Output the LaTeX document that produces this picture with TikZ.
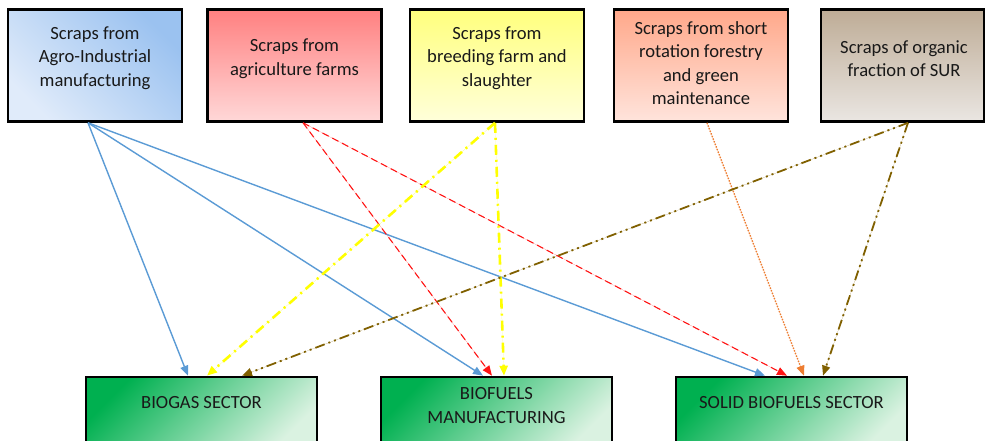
\documentclass[tikz,border=0pt]{standalone}
\usepackage{fontspec}
\setmainfont{Carlito}
\usetikzlibrary{arrows.meta}

\definecolor{agrodark}{RGB}{155,194,240}
\definecolor{agrolight}{RGB}{224,235,250}
\definecolor{agridark}{RGB}{255,128,128}
\definecolor{agrilight}{RGB}{255,216,216}
\definecolor{breeddark}{RGB}{255,255,125}
\definecolor{breedlight}{RGB}{255,255,218}
\definecolor{forestdark}{RGB}{255,168,138}
\definecolor{forestlight}{RGB}{255,228,220}
\definecolor{organicdark}{RGB}{190,172,150}
\definecolor{organiclight}{RGB}{234,230,226}
\definecolor{secdark}{RGB}{0,176,80}
\definecolor{seclight}{RGB}{218,242,225}
\definecolor{txt}{RGB}{25,25,25}
\definecolor{flowblue}{RGB}{91,155,213}
\definecolor{flowred}{RGB}{255,20,20}
\definecolor{flowyellow}{RGB}{255,255,0}
\definecolor{floworange}{RGB}{237,125,49}
\definecolor{flowbrown}{RGB}{128,96,0}

\begin{document}
\begin{tikzpicture}[x=1pt,y=-1pt,
    source/.style={draw=black,line width=2.6pt,minimum width=174pt,minimum height=112pt,inner sep=0pt},
    sector/.style={draw=black,line width=2.6pt,minimum width=231pt,minimum height=73pt,inner sep=0pt,
      top color=secdark,bottom color=seclight,shading angle=45},
    boxtext/.style={text=txt,align=center,font=\fontsize{18.6}{23.5}\selectfont},
    tip/.style={-{Triangle[length=10pt,width=8pt]}},
    blueflow/.style={tip,draw=flowblue,fill=flowblue,line width=1.4pt},
    redflow/.style={tip,draw=flowred,fill=flowred,line width=1.1pt,dash pattern=on 7pt off 4pt},
    yellowflow/.style={tip,draw=flowyellow,fill=flowyellow,line width=2.6pt,dash pattern=on 10pt off 5pt on 2pt off 5pt},
    orangeflow/.style={tip,draw=floworange,fill=floworange,line width=1.4pt,dash pattern=on 1.4pt off 1.4pt},
    brownflow/.style={tip,draw=flowbrown,fill=flowbrown,line width=1.8pt,dash pattern=on 10pt off 4pt on 2pt off 4pt on 2pt off 4pt}]
    \clip (0,0) rectangle (989,441);
    % Sources (en haut)
    \node[source,top color=agrodark,bottom color=agrolight,shading angle=-45] (agro) at (95,65.5) {};
    \node[source,top color=agridark,bottom color=agrilight] (agri) at (294.5,65.5) {};
    \node[source,top color=breeddark,bottom color=breedlight] (breed) at (497,65.5) {};
    \node[source,top color=forestdark,bottom color=forestlight] (forest) at (701,65.5) {};
    \node[source,minimum width=163pt,top color=organicdark,bottom color=organiclight] (organic) at (902.5,65.5) {};
    \node[boxtext] (agrotext) at (95,58) {Scraps from\\Agro-Industrial\\manufacturing};
    \node[boxtext] (agritext) at (294.5,58.5) {Scraps from\\agriculture farms};
    \node[boxtext] (breedtext) at (497,58) {Scraps from\\breeding farm and\\slaughter};
    \node[boxtext] (foresttext) at (701,63) {Scraps from short\\rotation forestry\\and green\\maintenance};
    \node[boxtext] (organictext) at (904,58.5) {Scraps of organic\\fraction of SUR};
    % Secteurs (en bas)
    \node[sector] (biogas) at (201.5,413.5) {};
    \node[sector] (biofuels) at (496.5,413.5) {};
    \node[sector] (solid) at (791.5,413.5) {};
    \node[boxtext] (biogastext) at (201.5,403) {BIOGAS SECTOR};
    \node[boxtext] (biofuelstext) at (496.5,405.5) {BIOFUELS\\MANUFACTURING};
    \node[boxtext] (solidtext) at (791.5,403) {SOLID BIOFUELS SECTOR};
    % Flux
    \draw[blueflow] ([xshift=-7pt]agro.south) -- ([xshift=-13.5pt]biogas.north);
    \draw[blueflow] ([xshift=-7pt]agro.south) -- ([xshift=-13.5pt]biofuels.north);
    \draw[blueflow] ([xshift=-7pt]agro.south) -- ([xshift=-26.5pt]solid.north);
    \draw[redflow] ([xshift=8.5pt]agri.south) -- ([xshift=-4.5pt]biofuels.north);
    \draw[redflow] ([xshift=8.5pt]agri.south) -- ([xshift=-4.5pt]solid.north);
    \draw[yellowflow] ([xshift=-2pt]breed.south) -- ([xshift=5.5pt]biogas.north);
    \draw[yellowflow] ([xshift=-2pt]breed.south) -- ([xshift=7.5pt]biofuels.north);
    \draw[orangeflow] ([xshift=6pt]forest.south) -- ([xshift=12.5pt]solid.north);
    \draw[brownflow] ([xshift=5.5pt]organic.south) -- ([xshift=40.5pt]biogas.north);
    \draw[brownflow] ([xshift=5.5pt]organic.south) -- ([xshift=31.5pt]solid.north);
\end{tikzpicture}
\end{document}
